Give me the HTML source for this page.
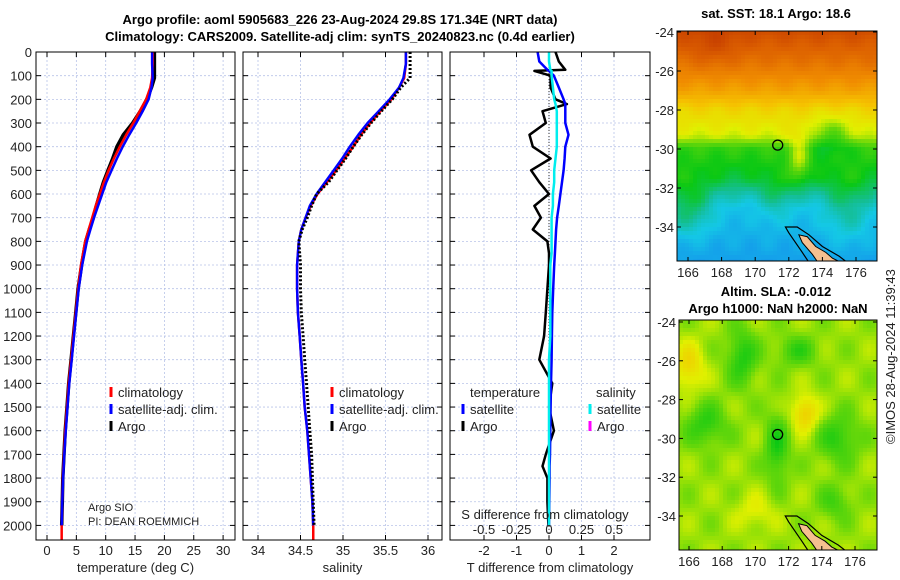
<!DOCTYPE html>
<html><head><meta charset="utf-8"><style>
html,body{margin:0;padding:0;background:#fff;}
svg{display:block;font-family:"Liberation Sans","DejaVu Sans",sans-serif;}
</style></head><body>
<svg id="c" width="900" height="580" viewBox="0 0 900 580">
<text x="340" y="24" text-anchor="middle" font-size="13" font-weight="bold">Argo profile: aoml 5905683_226 23-Aug-2024 29.8S 171.34E (NRT data)</text>
<text x="340" y="41" text-anchor="middle" font-size="13" font-weight="bold">Climatology: CARS2009. Satellite-adj clim: synTS_20240823.nc (0.4d earlier)</text>
<text x="776" y="18" text-anchor="middle" font-size="13" font-weight="bold">sat. SST: 18.1 Argo: 18.6</text>
<text x="776" y="296" text-anchor="middle" font-size="13" font-weight="bold">Altim. SLA: -0.012</text>
<text x="778" y="313" text-anchor="middle" font-size="13" font-weight="bold">Argo h1000: NaN h2000: NaN</text>
<text transform="translate(895,444) rotate(-90)" font-size="13" fill="#222">©IMOS 28-Aug-2024 11:39:43</text>
<g id="g"></g>
</svg>
<script>
// ---- profile data ----
const depths = [0, 50, 110, 150, 200, 250, 300, 350, 400, 450, 500, 550, 600, 650, 700, 750, 800, 900, 1000, 1100, 1200, 1300, 1400, 1500, 1600, 1700, 1800, 1900, 2000];
const tempArgo = [18.3, 18.3, 18.3, 17.8, 17.0, 15.9, 14.6, 13.0, 11.9, 11.2, 10.4, 9.6, 9.0, 8.4, 7.9, 7.2, 6.6, 5.9, 5.3, 4.9, 4.5, 4.1, 3.7, 3.4, 3.1, 2.9, 2.7, 2.6, 2.5];
const tempClim = [18.0, 18.0, 17.9, 17.6, 16.9, 15.8, 14.7, 13.5, 12.4, 11.4, 10.5, 9.7, 9.0, 8.3, 7.7, 7.1, 6.5, 5.8, 5.3, 4.9, 4.5, 4.1, 3.7, 3.4, 3.1, 2.9, 2.7, 2.6, 2.5];
const tempSat = [17.9, 17.9, 18.0, 17.8, 17.3, 16.3, 15.2, 14.0, 12.9, 11.9, 11.0, 10.1, 9.4, 8.7, 8.0, 7.4, 6.8, 6.0, 5.4, 5.0, 4.6, 4.2, 3.8, 3.5, 3.2, 2.95, 2.75, 2.6, 2.5];
const salArgo = [35.79, 35.79, 35.79, 35.68, 35.58, 35.45, 35.33, 35.22, 35.12, 35.03, 34.93, 34.83, 34.69, 34.63, 34.58, 34.52, 34.48, 34.50, 34.50, 34.51, 34.53, 34.55, 34.57, 34.59, 34.61, 34.63, 34.64, 34.65, 34.66];
const salClim = [35.74, 35.74, 35.72, 35.66, 35.57, 35.44, 35.32, 35.21, 35.12, 35.02, 34.92, 34.81, 34.70, 34.62, 34.56, 34.51, 34.48, 34.46, 34.46, 34.47, 34.49, 34.51, 34.53, 34.55, 34.58, 34.60, 34.62, 34.64, 34.65];
const salSat = [35.74, 35.74, 35.71, 35.66, 35.55, 35.42, 35.29, 35.18, 35.08, 34.99, 34.89, 34.79, 34.69, 34.61, 34.56, 34.51, 34.48, 34.46, 34.46, 34.47, 34.49, 34.51, 34.53, 34.55, 34.58, 34.60, 34.62, 34.64, 34.65];
const diffDepths = [0, 40, 75, 80, 100, 150, 200, 220, 250, 300, 350, 400, 450, 500, 550, 600, 650, 700, 750, 800, 850, 900, 1000, 1100, 1200, 1300, 1400, 1500, 1600, 1700, 1750, 1800, 1900, 2000];
const tDiffArgo = [0.2, 0.3, 0.5, -0.45, 0.05, 0.05, 0.2, 0.55, -0.2, -0.1, -0.6, -0.5, 0.05, -0.55, -0.3, 0.0, -0.45, -0.25, -0.5, -0.05, 0.0, 0.0, -0.05, -0.1, -0.15, -0.3, 0.1, 0.0, 0.15, -0.1, -0.2, -0.05, -0.05, -0.02];
const tDiffSat = [-0.35, -0.3, -0.05, 0.0, 0.15, 0.3, 0.45, 0.5, 0.5, 0.5, 0.6, 0.5, 0.48, 0.45, 0.4, 0.35, 0.3, 0.25, 0.22, 0.2, 0.18, 0.16, 0.13, 0.1, 0.09, 0.08, 0.06, 0.05, 0.04, 0.03, 0.02, 0.02, 0.01, 0.0];
const sDiffSat = [0.0, 0.0, 0.01, 0.02, 0.02, 0.03, 0.04, 0.05, 0.06, 0.06, 0.06, 0.06, 0.05, 0.04, 0.04, 0.03, 0.03, 0.02, 0.02, 0.02, 0.02, 0.01, 0.01, 0.01, 0.01, 0.0, 0.0, 0.0, 0.0, 0.0, 0.0, 0.0, 0.0, 0.0];
const depthTicks = [0,100,200,300,400,500,600,700,800,900,1000,1100,1200,1300,1400,1500,1600,1700,1800,1900,2000];
const tempTicks = [0,5,10,15,20,25,30];
const salTicks = [34,34.5,35,35.5,36];
const diffTicks = [-2,-1,0,1,2];
const sDiffTicks = [-0.5,-0.25,0,0.25,0.5];
const latTicks = [-24,-26,-28,-30,-32,-34];
const lonTicks = [166,168,170,172,174,176];
const argoLon = 171.34, argoLat = -29.8;

const NS='http://www.w3.org/2000/svg';
const G=document.getElementById('g');
function el(tag,attrs,parent){const e=document.createElementNS(NS,tag);for(const k in attrs)e.setAttribute(k,attrs[k]);(parent||G).appendChild(e);return e;}
function txt(x,y,s,attrs,parent){const e=el('text',Object.assign({x:x,y:y,'font-size':13,fill:'#222'},attrs||{}),parent);e.textContent=s;return e;}

const TOP=52,BOT=540;
const yD=d=>TOP+d*0.2367;
const xT=t=>47+t*5.87;
const xS=s=>258+(s-34)*85;
const xD=v=>549+v*32.5;
const xSS=v=>549+v*130;
const panels=[{x0:36,x1:235,xs:tempTicks,f:xT,name:'temperature-panel',lab:'temperature (deg C)'},
 {x0:243,x1:442,xs:salTicks,f:xS,name:'salinity-panel',lab:'salinity'},
 {x0:450,x1:650,xs:diffTicks,f:xD,name:'difference-panel',lab:'T difference from climatology'}];
const defs=el('defs',{});
panels.forEach((p,i)=>{
  const cp=el('clipPath',{id:'cp'+i},defs);el('rect',{x:p.x0,y:TOP,width:p.x1-p.x0,height:BOT-TOP},cp);
  const g=el('g',{});
  
  
  depthTicks.forEach(d=>{const y=yD(d);
    el('line',{x1:p.x0,x2:p.x1,y1:y,y2:y,stroke:'#b8c4e8','stroke-width':0.8,'stroke-dasharray':'2,2'},g);
    el('line',{x1:p.x0,x2:p.x0+5,y1:y,y2:y,stroke:'#000'},g);
    el('line',{x1:p.x1-5,x2:p.x1,y1:y,y2:y,stroke:'#000'},g);
    if(i==0){const t=txt(32,y+5,String(d),{'text-anchor':'end'});}
  });
  p.xs.forEach(v=>{const x=p.f(v);
    el('line',{x1:x,x2:x,y1:TOP,y2:BOT,stroke:'#b8c4e8','stroke-width':0.8,'stroke-dasharray':'2,2'},g);
    el('line',{x1:x,x2:x,y1:BOT-5,y2:BOT,stroke:'#000'},g);
    el('line',{x1:x,x2:x,y1:TOP,y2:TOP+5,stroke:'#000'},g);
    const t=txt(x,555,String(v),{'text-anchor':'middle'});
    
    
  });
  const at=txt((p.x0+p.x1)/2,572,p.lab,{'text-anchor':'middle'});
  
  
});
function line(xs,ys,fx,color,w,dash,ci,name){
  const pts=xs.map((v,k)=>fx(v).toFixed(1)+','+yD(ys[k]).toFixed(1)).join(' ');
  const pl=el('polyline',{points:pts,fill:'none',stroke:color,'stroke-width':w,'stroke-linejoin':'round','clip-path':'url(#cp'+ci+')'});
  if(dash)pl.setAttribute('stroke-dasharray',dash);
  
  
}
line(tempArgo,depths,xT,'#000',3.5,null,0,'argo-temperature-line');
line(tempClim,depths,xT,'#f00',2.5,null,0,'climatology-temperature-line');
line(tempSat,depths,xT,'#00f',2.5,null,0,'satellite-temperature-line');
line(salClim,depths,xS,'#f00',2.5,null,1,'climatology-salinity-line');
line(salSat,depths,xS,'#00f',2.5,null,1,'satellite-salinity-line');
line(salArgo,depths,xS,'#000',3,'2,2',1,'argo-salinity-line');
el('line',{x1:xD(0),x2:xD(0),y1:TOP,y2:BOT,stroke:'#333','stroke-dasharray':'1,2'});
line(tDiffArgo,diffDepths,xD,'#000',2.5,null,2,'argo-temperature-difference-line');
line(tDiffSat,diffDepths,xD,'#00f',2.5,null,2,'satellite-temperature-difference-line');
line(sDiffSat,diffDepths,xSS,'#0ee',2.5,null,2,'satellite-salinity-difference-line');
el('line',{x1:xT(tempClim[tempClim.length-1]),x2:xT(tempClim[tempClim.length-1]),y1:yD(2000),y2:BOT,stroke:'#f00','stroke-width':2.5});
el('line',{x1:xS(salClim[salClim.length-1]),x2:xS(salClim[salClim.length-1]),y1:yD(2000),y2:BOT,stroke:'#f00','stroke-width':2.5});
panels.forEach(p=>el('rect',{x:p.x0,y:TOP,width:p.x1-p.x0,height:BOT-TOP,fill:'none',stroke:'#000','stroke-width':1}));
function leg(x,y,color,label,name){
  const g=el('g',{});
  
  
  el('line',{x1:x,x2:x,y1:y-10,y2:y,stroke:color,'stroke-width':3},g);
  txt(x+7,y,label,{},g);
}
leg(111,397,'#f00','climatology','legend-climatology');
leg(111,414,'#00f','satellite-adj. clim.','legend-satellite-adj');
leg(111,431,'#000','Argo','legend-argo');
leg(332,397,'#f00','climatology','legend-sal-climatology');
leg(332,414,'#00f','satellite-adj. clim.','legend-sal-satellite-adj');
leg(332,431,'#000','Argo','legend-sal-argo');
txt(470,397,'temperature');
txt(596,397,'salinity');
leg(463,414,'#00f','satellite','legend-t-satellite');
leg(463,431,'#000','Argo','legend-t-argo');
leg(590,414,'#0ee','satellite','legend-s-satellite');
leg(590,431,'#f0f','Argo','legend-s-argo');
txt(88,511,'Argo SIO',{'font-size':11});
txt(88,525,'PI: DEAN ROEMMICH',{'font-size':11});
txt(545,519,'S difference from climatology',{'text-anchor':'middle'});
sDiffTicks.forEach(v=>{const t=txt(xSS(v),534,String(v),{'text-anchor':'middle'});});

// ---- maps ----
function interp(stops,v){v=Math.max(stops[0][0],Math.min(stops[stops.length-1][0],v));
  for(let i=1;i<stops.length;i++){if(v<=stops[i][0]){const a=stops[i-1],b=stops[i],f=(v-a[0])/(b[0]-a[0]);
    return 'rgb('+[1,2,3].map(k=>Math.round(a[k]+(b[k]-a[k])*f)).join(',')+')';}}}
const cmap=[[0.15,20,90,230],[0.25,20,150,235],[0.32,20,200,230],[0.38,20,190,150],[0.45,10,200,20],[0.52,100,215,10],[0.58,225,240,0],[0.66,245,195,0],[0.76,240,140,0],[0.86,220,95,0],[0.96,190,50,0]];
function map(id,x0,x1,y0,y1,lonA,lonPx,latA,latPx,field,name){
  const lx=lon=>lonA+(lon-166)*lonPx, ly=lat=>latA+(-24-lat)*latPx;
  const g=el('g',{});
  
  
  const cp=el('clipPath',{id:'mc'+id},defs);el('rect',{x:x0,y:y0,width:x1-x0,height:y1-y0},cp);
  const cg=el('g',{'clip-path':'url(#mc'+id+')'},g);
  const step=4;
  for(let x=x0;x<x1;x+=step)for(let y=y0;y<y1;y+=step){
    const lon=166+(x+2-lonA)/lonPx, lat=-24-(y+2-latA)/latPx;
    el('rect',{x:x,y:y,width:step+0.3,height:step+0.3,fill:interp(cmap,field(lon,lat))},cg);
  }
  const coast=[[172.6,-34.4],[173.1,-34.5],[173.6,-35.0],[174.2,-35.3],[174.6,-35.6],[175.3,-35.9],[173.8,-35.9],[173.4,-35.4],[172.8,-34.8]];
  el('polygon',{points:coast.map(c=>lx(c[0])+','+ly(c[1])).join(' '),fill:'#f5c090',stroke:'#000','stroke-width':1},cg);
  const shelf=[[171.8,-34.0],[172.5,-34.0],[173.2,-34.4],[174.0,-35.0],[175.0,-35.5],[175.6,-35.9],[175.3,-36.2],[173.5,-36.2],[172.8,-35.3],[172.0,-34.3]];
  el('polygon',{points:shelf.map(c=>lx(c[0])+','+ly(c[1])).join(' '),fill:'none',stroke:'#000','stroke-width':1.2},cg);
  el('circle',{cx:lx(argoLon),cy:ly(argoLat),r:5,fill:'none',stroke:'#000','stroke-width':1.3},g);
  el('rect',{x:x0,y:y0,width:x1-x0,height:y1-y0,fill:'none',stroke:'#000'},g);
  latTicks.forEach(l=>{const y=ly(l);el('line',{x1:x0,x2:x0+4,y1:y,y2:y,stroke:'#000'},g);el('line',{x1:x1-4,x2:x1,y1:y,y2:y,stroke:'#000'},g);
    const t=txt(x0-3,y+5,String(l),{'text-anchor':'end'},g);});
  lonTicks.forEach(l=>{const x=lx(l);el('line',{x1:x,x2:x,y1:y1-4,y2:y1,stroke:'#000'},g);el('line',{x1:x,x2:x,y1:y0,y2:y0+4,stroke:'#000'},g);
    const t=txt(x,y1+16,String(l),{'text-anchor':'middle'},g);});
}
const sstLatProfile=[[-24,0.9],[-25.5,0.82],[-27,0.72],[-28,0.63],[-29.3,0.575],[-30,0.48],[-31.5,0.43],[-32.2,0.37],[-33,0.31],[-36,0.26]];
function sst(lon,lat){
  let v=sstLatProfile[sstLatProfile.length-1][1];
  for(let i=1;i<sstLatProfile.length;i++){const a=sstLatProfile[i-1],b=sstLatProfile[i];
    if(lat<=a[0]&&lat>=b[0]){v=a[1]+(b[1]-a[1])*(lat-a[0])/(b[0]-a[0]);break;}}
  v+=0.1*Math.exp(-((lon-172.6)**2)/0.4)*Math.exp(-((lat+30.5)**2)/1.5);
  v-=0.07*Math.exp(-((lon-174.5)**2)/1.5)*Math.exp(-((lat+29.3)**2)/1.0);
  v+=0.1*Math.exp(-((lon-166)**2)/2)*Math.exp(-((lat+33)**2)/2);
  v+=0.07*Math.exp(-((lon-175.5)**2)/2)*Math.exp(-((lat+33)**2)/3);
  v+=0.05*Math.exp(-((lon-171.3)**2)/1)*Math.exp(-((lat+32.5)**2)/1.5);
  v+=0.04*Math.exp(-((lon-167.5)**2)/2)*Math.exp(-((lat+24.8)**2)/1);
  v+=0.012*Math.sin(lon*3.1)*Math.cos(lat*2.7);
  return v;
}
function sla(lon,lat){
  let v=0.545;
  v-=0.08*Math.exp(-((lon-169.2)**2)/0.8)*Math.exp(-((lat+25.8)**2)/2);
  v-=0.08*Math.exp(-((lon-171.3)**2)/0.5)*Math.exp(-((lat+30.5)**2)/3);
  v-=0.07*Math.exp(-((lon-167)**2)/1.5)*Math.exp(-((lat+29.3)**2)/1.2);
  v-=0.07*Math.exp(-((lon-175)**2)/1.5)*Math.exp(-((lat+30)**2)/1.5);
  v-=0.06*Math.exp(-((lon-172.5)**2)/1.5)*Math.exp(-((lat+25.5)**2)/0.6);
  v-=0.05*Math.exp(-((lon-174.8)**2)/1.0)*Math.exp(-((lat+33.3)**2)/0.8);
  v+=0.1*Math.exp(-((lon-173)**2)/0.6)*Math.exp(-((lat+28.7)**2)/0.8);
  v+=0.08*Math.exp(-((lon-166)**2)/0.8)*Math.exp(-((lat+26.3)**2)/1.5);
  v+=0.04*Math.exp(-((lon-170)**2)/1.5)*Math.exp(-((lat+33.8)**2)/0.8);
  v+=0.02*Math.sin(lon*2.3)*Math.cos(lat*2.1);
  return v;
}
map(1,677,877,31,261,688,16.8,32,19.5,sst,'sst-map');
map(2,679,877,320,550,689,16.6,322,19.4,sla,'sla-map');
</script>
</body></html>
